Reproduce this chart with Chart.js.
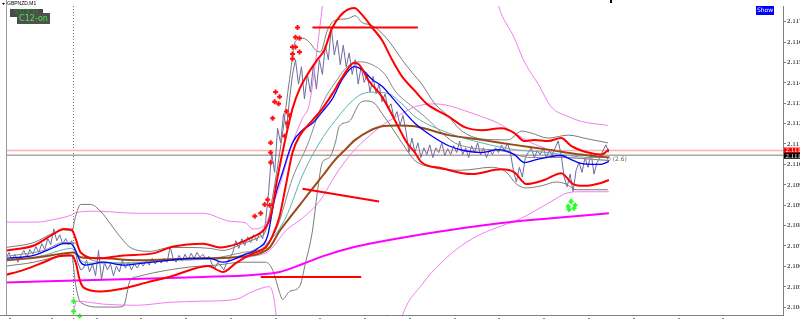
<!DOCTYPE html>
<html><head><meta charset="utf-8">
<script src="https://cdn.jsdelivr.net/npm/chart.js@4.4.1/dist/chart.umd.min.js"></script>
<style>html,body{margin:0;padding:0;background:#fff;overflow:hidden}#wrap{position:relative;width:800px;height:321px}</style>
</head><body><div id="wrap"><canvas id="c" width="800" height="321"></canvas></div>
<script>
// ---------- data ----------
const symbolTitle = "GBPNZD,M1";
const yTicks = [2.1171,2.1162,2.1153,2.1144,2.1135,2.1126,2.1117,2.1108,2.1099,2.1090,2.1081,2.1072,2.1063,2.1054,2.1045];
const askPrice = 2.11141, bidPrice = 2.11120;
const askLabel = "2.1114", bidLabel = "2.1112";
const separatorBar = 67;
const barsPerPoint = 3;
const priceClose = [
2.10665,2.10691,2.10657,2.10683,2.10648,2.10678,2.10700,2.10670,2.10704,2.10683,
2.10717,2.10691,2.10730,2.10704,2.10752,2.10726,2.10795,2.10743,2.10769,2.10730,
2.10752,2.10726,2.10743,2.10709,2.10648,2.10614,2.10622,2.10657,2.10605,2.10640,
2.10588,2.10700,2.10571,2.10648,2.10614,2.10640,2.10588,2.10631,2.10605,2.10657,
2.10622,2.10648,2.10614,2.10640,2.10622,2.10648,2.10631,2.10657,2.10635,2.10665,
2.10640,2.10661,2.10644,2.10665,2.10648,2.10717,2.10665,2.10648,2.10678,2.10653,
2.10683,2.10657,2.10687,2.10665,2.10691,2.10670,2.10683,2.10661,2.10674,2.10640,
2.10622,2.10648,2.10631,2.10614,2.10648,2.10665,2.10691,2.10743,2.10709,2.10752,
2.10722,2.10760,2.10735,2.10769,2.10743,2.10778,2.10752,2.10829,2.10959,2.11132,
2.11045,2.11239,2.11175,2.11304,2.11239,2.11369,2.11477,2.11542,2.11434,2.11511,
2.11369,2.11477,2.11399,2.11520,2.11412,2.11542,2.11477,2.11606,2.11542,2.11684,
2.11563,2.11628,2.11520,2.11606,2.11511,2.11572,2.11477,2.11542,2.11434,2.11511,
2.11442,2.11477,2.11399,2.11468,2.11391,2.11434,2.11356,2.11391,2.11326,2.11347,
2.11283,2.11313,2.11252,2.11296,2.11227,2.11132,2.11196,2.11132,2.11175,2.11110,
2.11153,2.11123,2.11166,2.11110,2.11153,2.11132,2.11175,2.11119,2.11149,2.11123,
2.11162,2.11132,2.11183,2.11123,2.11153,2.11110,2.11162,2.11132,2.11175,2.11123,
2.11153,2.11110,2.11145,2.11123,2.11153,2.11132,2.11166,2.11140,2.11175,2.11132,
2.11054,2.11002,2.11067,2.11024,2.11110,2.11132,2.11153,2.11110,2.11140,2.11123,
2.11153,2.11110,2.11140,2.11119,2.11153,2.11183,2.11123,2.11024,2.10981,2.11037,
2.10959,2.11054,2.11088,2.11045,2.11110,2.11067,2.11132,2.11037,2.11088,2.11110,
2.11140,2.11166,2.11132];

const upperRed = [[0,2.10700],[28,2.10722],[48,2.10773],[58,2.10795],[66,2.10791],[70,2.10752],[75,2.10691],[93,2.10665],[118,2.10678],[148,2.10687],[168,2.10717],[198,2.10730],[215,2.10713],[233,2.10730],[248,2.10760],[260,2.10795],[266,2.10851],[273,2.11024],[280,2.11175],[288,2.11326],[295,2.11412],[303,2.11477],[313,2.11542],[320,2.11585],[328,2.11684],[336,2.11736],[343,2.11762],[350,2.11770],[358,2.11740],[368,2.11684],[378,2.11628],[388,2.11542],[398,2.11468],[411,2.11404],[423,2.11347],[445,2.11291],[461,2.11244],[478,2.11231],[498,2.11239],[511,2.11218],[521,2.11183],[531,2.11188],[545,2.11183],[558,2.11196],[568,2.11162],[585,2.11132],[598,2.11123],[606,2.11145]];
const lowerRed = [[0,2.10592],[18,2.10614],[38,2.10648],[53,2.10674],[66,2.10678],[70,2.10648],[74,2.10571],[78,2.10536],[95,2.10519],[118,2.10532],[141,2.10558],[168,2.10588],[185,2.10614],[203,2.10631],[218,2.10605],[231,2.10644],[248,2.10687],[261,2.10713],[268,2.10765],[275,2.10851],[281,2.10981],[288,2.11132],[295,2.11205],[308,2.11274],[318,2.11326],[328,2.11391],[338,2.11464],[350,2.11529],[355,2.11520],[365,2.11447],[378,2.11378],[391,2.11274],[403,2.11175],[411,2.11132],[418,2.11088],[438,2.11063],[468,2.11037],[498,2.11058],[511,2.11045],[523,2.10993],[541,2.11011],[558,2.11041],[570,2.10993],[581,2.10985],[598,2.10998],[606,2.11011]];
const blueMA = [[0,2.10665],[28,2.10678],[48,2.10713],[58,2.10730],[65,2.10730],[70,2.10700],[75,2.10648],[80,2.10635],[98,2.10648],[118,2.10635],[138,2.10644],[165,2.10657],[185,2.10665],[205,2.10665],[218,2.10648],[238,2.10678],[253,2.10709],[263,2.10765],[270,2.10929],[278,2.11045],[288,2.11175],[298,2.11231],[308,2.11261],[318,2.11313],[328,2.11369],[338,2.11455],[350,2.11511],[358,2.11498],[368,2.11455],[378,2.11425],[391,2.11360],[411,2.11261],[428,2.11205],[445,2.11162],[461,2.11140],[478,2.11132],[495,2.11145],[511,2.11123],[521,2.11088],[533,2.11101],[543,2.11110],[558,2.11119],[568,2.11101],[578,2.11084],[591,2.11080],[598,2.11080],[606,2.11093]];
const brownMA = [[0,2.10657],[33,2.10670],[58,2.10687],[68,2.10691],[75,2.10670],[98,2.10665],[131,2.10657],[165,2.10661],[198,2.10665],[231,2.10670],[255,2.10687],[265,2.10713],[275,2.10786],[288,2.10860],[298,2.10916],[311,2.10989],[321,2.11045],[331,2.11101],[341,2.11145],[351,2.11188],[365,2.11227],[378,2.11248],[393,2.11252],[411,2.11248],[445,2.11209],[478,2.11188],[511,2.11166],[545,2.11145],[578,2.11123],[606,2.11110]];
const tealMA = [[0,2.10653],[38,2.10678],[58,2.10704],[66,2.10709],[73,2.10665],[83,2.10644],[118,2.10644],[168,2.10657],[208,2.10661],[233,2.10674],[248,2.10700],[265,2.10743],[281,2.10843],[298,2.11032],[315,2.11175],[331,2.11274],[348,2.11360],[358,2.11391],[371,2.11399],[385,2.11391],[398,2.11347],[411,2.11291],[445,2.11218],[478,2.11175],[511,2.11145],[545,2.11132],[565,2.11119],[588,2.11110],[606,2.11110]];
const grayUpper = [[0,2.10713],[28,2.10735],[48,2.10778],[58,2.10791],[66,2.10786],[70,2.10851],[75,2.10903],[85,2.10903],[95,2.10873],[108,2.10799],[118,2.10743],[125,2.10713],[145,2.10696],[165,2.10713],[185,2.10713],[205,2.10709],[218,2.10700],[238,2.10730],[253,2.10756],[261,2.10786],[268,2.10937],[278,2.11218],[285,2.11455],[291,2.11624],[298,2.11637],[305,2.11619],[311,2.11585],[316,2.11576],[323,2.11671],[330,2.11714],[343,2.11723],[351,2.11736],[358,2.11706],[368,2.11693],[378,2.11658],[388,2.11606],[398,2.11542],[408,2.11486],[418,2.11434],[431,2.11347],[445,2.11291],[455,2.11239],[465,2.11209],[478,2.11192],[505,2.11188],[511,2.11205],[518,2.11227],[528,2.11218],[545,2.11196],[565,2.11209],[585,2.11192],[605,2.11175]];
const grayLower = [[0,2.10631],[28,2.10648],[48,2.10670],[58,2.10683],[66,2.10678],[70,2.10549],[75,2.10471],[95,2.10450],[111,2.10450],[118,2.10454],[125,2.10571],[131,2.10583],[148,2.10601],[185,2.10627],[211,2.10635],[238,2.10648],[261,2.10648],[268,2.10614],[275,2.10514],[278,2.10484],[285,2.10519],[295,2.10540],[301,2.10644],[308,2.10786],[313,2.10959],[318,2.11088],[325,2.11110],[331,2.11175],[335,2.11248],[345,2.11270],[355,2.11347],[361,2.11360],[371,2.11347],[378,2.11304],[385,2.11261],[398,2.11175],[411,2.11097],[428,2.11067],[458,2.11054],[488,2.11067],[503,2.11045],[513,2.10993],[523,2.10976],[538,2.10985],[553,2.11002],[563,2.10993],[573,2.10968],[588,2.10968],[605,2.10968]];
const grayMid = [[0,2.10674],[38,2.10700],[58,2.10735],[68,2.10735],[78,2.10678],[98,2.10648],[128,2.10644],[168,2.10657],[208,2.10665],[238,2.10691],[260,2.10717],[273,2.10808],[288,2.11019],[303,2.11166],[318,2.11347],[333,2.11455],[343,2.11511],[355,2.11533],[368,2.11520],[381,2.11477],[391,2.11404],[405,2.11347],[421,2.11291],[435,2.11231],[451,2.11175],[468,2.11153],[498,2.11140],[528,2.11110],[558,2.11110],[606,2.11097]];
const magentaMA = [[0,2.10558],[98,2.10571],[198,2.10583],[248,2.10592],[275,2.10605],[298,2.10640],[318,2.10674],[348,2.10713],[398,2.10756],[448,2.10791],[498,2.10821],[548,2.10842],[606,2.10864]];
const pinkUpper = [[0,2.10825],[31,2.10825],[45,2.10834],[65,2.10855],[71,2.10868],[91,2.10873],[131,2.10864],[198,2.10864],[225,2.10829],[241,2.10821],[248,2.10795],[260,2.10812],[273,2.10959],[288,2.11175],[298,2.11283],[305,2.11347],[312,2.11563],[318,2.11779],[324,2.11995],[488,2.11908],[495,2.11779],[511,2.11637],[521,2.11533],[535,2.11434],[548,2.11334],[565,2.11291],[578,2.11270],[605,2.11252]];
const pinkMid = [[230,2.10665],[248,2.10674],[265,2.10700],[281,2.10786],[298,2.10843],[315,2.10916],[331,2.11032],[348,2.11132],[365,2.11205],[381,2.11261],[395,2.11296],[411,2.11334],[431,2.11347],[445,2.11339],[461,2.11317],[478,2.11291],[495,2.11261],[511,2.11218],[528,2.11175],[545,2.11145],[555,2.11119],[578,2.11106],[606,2.11097]];
const pinkLower = [[67,2.10407],[71,2.10476],[98,2.10463],[131,2.10458],[165,2.10471],[198,2.10476],[231,2.10484],[248,2.10519],[265,2.10540],[270,2.10471],[274,2.10312],[393,2.10312],[398,2.10407],[418,2.10549],[438,2.10648],[458,2.10722],[478,2.10773],[498,2.10808],[518,2.10842],[531,2.10873],[548,2.10916],[565,2.10955],[578,2.10959],[606,2.10959]];
const resistTop = [[308,2.11684],[414,2.11684]];
const supportLow = [[256,2.10583],[357,2.10583]];
const trendSeg = [[298,2.10972],[375,2.10916]];
const sellArrows = [[293,2.11684],[291,2.11641],[295,2.11637],[288,2.11598],[291,2.11598],[288,2.11567],[295,2.11576],[288,2.11546],[271,2.11399],[275,2.11378],[270,2.11356],[274,2.11347],[268,2.11283],[282,2.11313],[285,2.11296],[283,2.11261],[280,2.11205],[266,2.11175],[266,2.11132],[266,2.11088],[263,2.10924],[260,2.10903],[265,2.10899],[250,2.10851],[256,2.10864]];
const buyArrows = [[565,2.10894],[568,2.10916],[571,2.10886],[566,2.10881],[572,2.10899],[68,2.10476],[68,2.10432],[74,2.10411]];

// ---------- chart ----------
const P = arr => arr.map(([x,y]) => ({x, y}));
const closePts = priceClose.map((y,i) => ({x: i*barsPerPoint, y}));
function line(data, color, width, order, smooth){
  return {type:'line', data, borderColor:color, borderWidth:width, pointRadius:0, fill:false,
          tension:0, cubicInterpolationMode: smooth ? 'monotone' : 'default', order};
}
const datasets = [
  line([{x:0,y:askPrice},{x:781,y:askPrice}], '#ffb0b0', 1.5, 200, false),
  line([{x:0,y:bidPrice},{x:781,y:bidPrice}], '#a8a8a8', 1.5, 199, false),
  line(closePts, '#6c6c9e', 1, 150, false),
  line(P(pinkUpper), '#f07cf0', 1, 120, true),
  line(P(pinkMid), '#f07cf0', 1, 119, true),
  line(P(pinkLower), '#f07cf0', 1, 118, true),
  line(P(grayUpper), '#7a7a7a', 1, 110, true),
  line(P(grayLower), '#7a7a7a', 1, 109, true),
  line(P(grayMid), '#8a8a8a', 1, 108, true),
  line(P(tealMA), '#5fb0b0', 1, 100, true),
  line(P(brownMA), '#9a4a18', 2, 90, true),
  line(P(blueMA), '#0000ff', 1.3, 80, true),
  line(P(magentaMA), '#ff00ff', 2, 75, true),
  line(P(upperRed), '#ff0000', 2, 70, true),
  line(P(lowerRed), '#ff0000', 2, 69, true),
  line(P(resistTop), '#ff0000', 2, 60, false),
  line(P(supportLow), '#ff0000', 2, 59, false),
  line(P(trendSeg), '#ff0000', 2, 58, false),
  {type:'scatter', data:P(sellArrows), pointStyle:'cross', pointRadius:2.5, borderColor:'#ff1010', borderWidth:2, order:10, clip:false},
  {type:'scatter', data:P(buyArrows), pointStyle:'cross', pointRadius:2.5, borderColor:'#22ff22', borderWidth:2, order:9, clip:false}
];

const decor = {
  id:'decor',
  beforeDatasetsDraw(chart){
    const ctx = chart.ctx, a = chart.chartArea, xs = chart.scales.x;
    ctx.save();
    const sx = Math.round(xs.getPixelForValue(separatorBar)) + 0.5;
    ctx.strokeStyle = '#777'; ctx.lineWidth = 1; ctx.setLineDash([1,2]);
    ctx.beginPath(); ctx.moveTo(sx, a.top); ctx.lineTo(sx, 321); ctx.stroke();
    ctx.restore();
  },
  afterDraw(chart){
    const ctx = chart.ctx, a = chart.chartArea, ys = chart.scales.y, xs = chart.scales.x;
    ctx.save();
    ctx.strokeStyle = '#9a9a9a'; ctx.lineWidth = 1;
    ctx.beginPath(); ctx.moveTo(a.left + 0.5, 0); ctx.lineTo(a.left + 0.5, a.bottom); ctx.stroke();
    ctx.strokeStyle = '#808080';
    ctx.beginPath(); ctx.moveTo(0, a.bottom + 0.5); ctx.lineTo(a.right, a.bottom + 0.5); ctx.stroke();
    // bottom small time marks
    ctx.fillStyle = '#888';
    for (const b of [3,45,90,135,180,225,270,315,360,405,450,495,540,585,630,675,720]) {
      ctx.fillRect(Math.round(xs.getPixelForValue(b)), a.bottom + 3, 2, 1);
    }
    // title
    ctx.fillStyle = '#000'; ctx.font = '5px "Liberation Sans", sans-serif'; ctx.textBaseline = 'middle';
    ctx.beginPath(); ctx.moveTo(2,3); ctx.lineTo(5,3); ctx.lineTo(3.5,5); ctx.closePath(); ctx.fill();
    ctx.fillText(symbolTitle, 7, 4);
    // indicator label boxes
    ctx.fillStyle = '#4a4a4a'; ctx.fillRect(10, 9, 33, 8);
    ctx.fillStyle = '#1f9a1f'; ctx.font = '7px "DejaVu Sans", sans-serif'; ctx.textAlign = 'center';
    ctx.fillText('STOCH', 26, 12.5);
    ctx.fillStyle = '#505050'; ctx.fillRect(17, 13, 33, 11);
    ctx.fillStyle = '#3cf03c'; ctx.font = '8px "DejaVu Sans", sans-serif';
    ctx.fillText('C12-on', 33.5, 18.5);
    // Show button
    ctx.fillStyle = '#0000ff'; ctx.fillRect(756, 6, 18, 9);
    ctx.fillStyle = '#fff'; ctx.font = '6px "DejaVu Sans", sans-serif';
    ctx.fillText('Show', 765, 10.5);
    // small top mark
    ctx.fillStyle = '#000'; ctx.fillRect(Math.round(xs.getPixelForValue(607)), 0, 2, 3);
    // level text
    ctx.textAlign = 'left'; ctx.fillStyle = '#666'; ctx.font = '6px "DejaVu Sans", sans-serif';
    ctx.fillText('0 (2.6)', Math.round(xs.getPixelForValue(604)), ys.getPixelForValue(2.11101));
    // price labels on axis
    const pa = ys.getPixelForValue(askPrice), pb = ys.getPixelForValue(bidPrice);
    ctx.font = '7px "Liberation Serif", serif';
    ctx.fillStyle = '#ff0000'; ctx.fillRect(a.right + 1, pa - 3, 17, 6);
    ctx.fillStyle = '#fff'; ctx.fillText(askLabel, a.right + 2.5, pa);
    ctx.fillStyle = '#000'; ctx.fillRect(a.right + 1, pb - 2.5, 17, 6);
    ctx.fillStyle = '#fff'; ctx.fillText(bidLabel, a.right + 2.5, pb + 0.5);
    ctx.restore();
  }
};

new Chart(document.getElementById('c'), {
  type: 'line',
  data: { datasets },
  options: {
    responsive: false, animation: false, devicePixelRatio: 1,
    layout: { padding: { left: 2, top: 0, right: 0, bottom: 5 } },
    plugins: { legend: { display: false }, tooltip: { enabled: false } },
    scales: {
      x: { type: 'linear', min: 0, max: 781, display: false },
      y: {
        position: 'right', min: 2.10415, max: 2.11779,
        afterBuildTicks: s => { s.ticks = yTicks.map(v => ({ value: v })); },
        afterFit: s => { s.width = 17; },
        ticks: { font: { family: '"Liberation Serif", serif', size: 7 }, color: '#000', padding: 1,
                 autoSkip: false, maxRotation: 0, callback: v => Number(v).toFixed(4) },
        grid: { drawOnChartArea: false, tickLength: 3, color: '#808080' },
        border: { color: '#808080' }
      }
    }
  },
  plugins: [decor]
});
</script>
</body></html>
